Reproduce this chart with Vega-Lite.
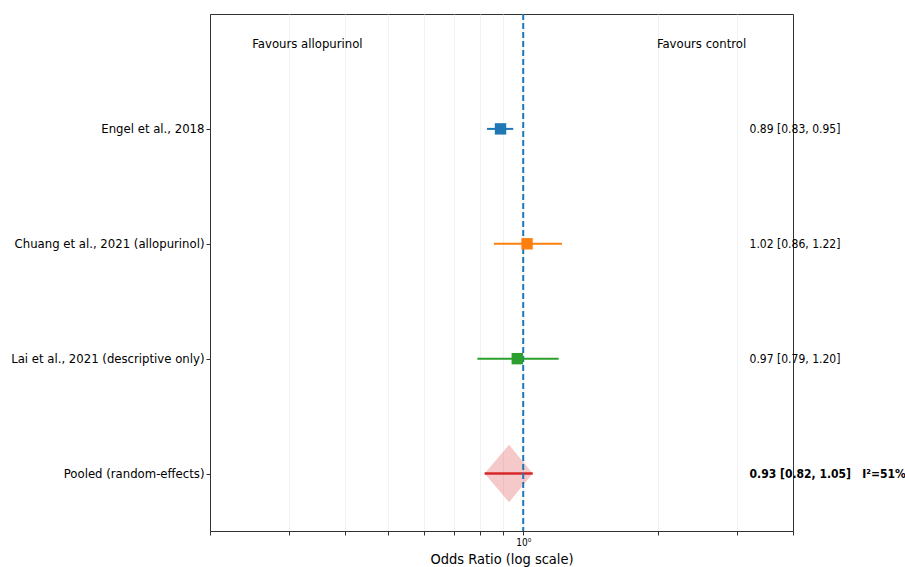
{
  "$schema": "https://vega.github.io/schema/vega-lite/v6.json",
  "width": 583,
  "height": 517,
  "autosize": {"type": "none"},
  "padding": {"left": 210, "top": 14, "right": 112, "bottom": 36},
  "background": "white",
  "config": {
    "view": {"stroke": "#333333", "strokeWidth": 1},
    "font": "DejaVu Sans Condensed"
  },
  "datasets": {
    "studies": [
      {"row": 0, "study": "Engel et al., 2018", "or": 0.89, "lo": 0.83, "hi": 0.95, "group": "Engel", "txt": "0.89 [0.83, 0.95]"},
      {"row": 1, "study": "Chuang et al., 2021 (allopurinol)", "or": 1.02, "lo": 0.86, "hi": 1.22, "group": "Chuang", "txt": "1.02 [0.86, 1.22]"},
      {"row": 2, "study": "Lai et al., 2021 (descriptive only)", "or": 0.97, "lo": 0.79, "hi": 1.20, "group": "Lai", "txt": "0.97 [0.79, 1.20]"}
    ],
    "pooled": [
      {"row": 3, "study": "Pooled (random-effects)", "or": 0.93, "lo": 0.82, "hi": 1.05, "group": "Pooled", "txt": "0.93 [0.82, 1.05]\u00a0\u00a0\u00a0I²=51%"}
    ],
    "diamond": [
      {"x": 0.82, "top": 3, "bottom": 3},
      {"x": 0.93, "top": 2.75, "bottom": 3.25},
      {"x": 1.05, "top": 3, "bottom": 3}
    ],
    "header": [
      {"x": 0.33, "row": -0.74, "label": "Favours allopurinol"},
      {"x": 2.5, "row": -0.74, "label": "Favours control"}
    ],
    "ref": [{"x": 1}]
  },
  "layer": [
    {
      "data": {"name": "diamond"},
      "mark": {"type": "area", "orient": "vertical", "color": "#d62728", "opacity": 0.25},
      "encoding": {
        "x": {"field": "x", "type": "quantitative", "scale": {"type": "log", "domain": [0.2, 4], "nice": false},
          "axis": {
            "values": [0.2, 0.3, 0.4, 0.5, 0.6, 0.7, 0.8, 0.9, 1, 2, 3, 4],
            "labelExpr": "datum.value == 1 ? '10⁰' : ''",
            "grid": true, "gridColor": "#efefef", "gridWidth": 0.8,
            "gridOpacity": {"condition": {"test": "datum.value == 4 || datum.value == 0.2", "value": 0}, "value": 1},
            "tickColor": "#333333", "tickSize": 4, "domainColor": "#333333",
            "labelFontSize": 10, "labelColor": "#000000", "labelPadding": 2,
            "title": "Odds Ratio (log scale)", "titleFontSize": 14.5, "titleFontWeight": "normal", "titleColor": "#000000", "titlePadding": 5
          }},
        "y": {"field": "top", "type": "quantitative", "scale": {"domain": [-1, 3.5], "reverse": true, "nice": false, "zero": false},
          "axis": {
            "values": [0, 1, 2, 3],
            "labelExpr": "datum.value == 0 ? 'Engel et al., 2018' : datum.value == 1 ? 'Chuang et al., 2021 (allopurinol)' : datum.value == 2 ? 'Lai et al., 2021 (descriptive only)' : 'Pooled (random-effects)'",
            "grid": false, "tickColor": "#333333", "tickSize": 4, "domainColor": "#333333",
            "labelFontSize": 13, "labelColor": "#000000", "labelPadding": 2, "labelLimit": 0, "title": null
          }},
        "y2": {"field": "bottom"}
      }
    },
    {
      "data": {"name": "pooled"},
      "mark": {"type": "rule", "color": "#d62728", "strokeWidth": 2.5},
      "encoding": {
        "x": {"field": "lo", "type": "quantitative"},
        "x2": {"field": "hi"},
        "y": {"field": "row", "type": "quantitative"}
      }
    },
    {
      "data": {"name": "ref"},
      "mark": {"type": "rule", "color": "#1f77b4", "strokeWidth": 2, "strokeDash": [6, 3]},
      "encoding": {"x": {"field": "x", "type": "quantitative"}}
    },
    {
      "data": {"name": "studies"},
      "mark": {"type": "rule", "strokeWidth": 2},
      "encoding": {
        "x": {"field": "lo", "type": "quantitative"},
        "x2": {"field": "hi"},
        "y": {"field": "row", "type": "quantitative"},
        "color": {"field": "group", "type": "nominal", "scale": {"domain": ["Engel", "Chuang", "Lai", "Pooled"], "range": ["#1f77b4", "#ff7f0e", "#2ca02c", "#d62728"]}, "legend": null}
      }
    },
    {
      "data": {"name": "studies"},
      "mark": {"type": "square", "size": 130, "opacity": 1, "filled": true},
      "encoding": {
        "x": {"field": "or", "type": "quantitative"},
        "y": {"field": "row", "type": "quantitative"},
        "color": {"field": "group", "type": "nominal", "legend": null}
      }
    },
    {
      "data": {"name": "studies"},
      "mark": {"type": "text", "align": "left", "baseline": "middle", "fontSize": 12, "color": "#000000"},
      "encoding": {
        "x": {"datum": 3.2, "type": "quantitative"},
        "y": {"field": "row", "type": "quantitative"},
        "text": {"field": "txt"}
      }
    },
    {
      "data": {"name": "pooled"},
      "mark": {"type": "text", "align": "left", "baseline": "middle", "fontSize": 12, "fontWeight": "bold", "color": "#000000"},
      "encoding": {
        "x": {"datum": 3.2, "type": "quantitative"},
        "y": {"field": "row", "type": "quantitative"},
        "text": {"field": "txt"}
      }
    },
    {
      "data": {"name": "header"},
      "mark": {"type": "text", "align": "center", "baseline": "middle", "fontSize": 13, "color": "#000000"},
      "encoding": {
        "x": {"field": "x", "type": "quantitative"},
        "y": {"field": "row", "type": "quantitative"},
        "text": {"field": "label"}
      }
    }
  ]
}
